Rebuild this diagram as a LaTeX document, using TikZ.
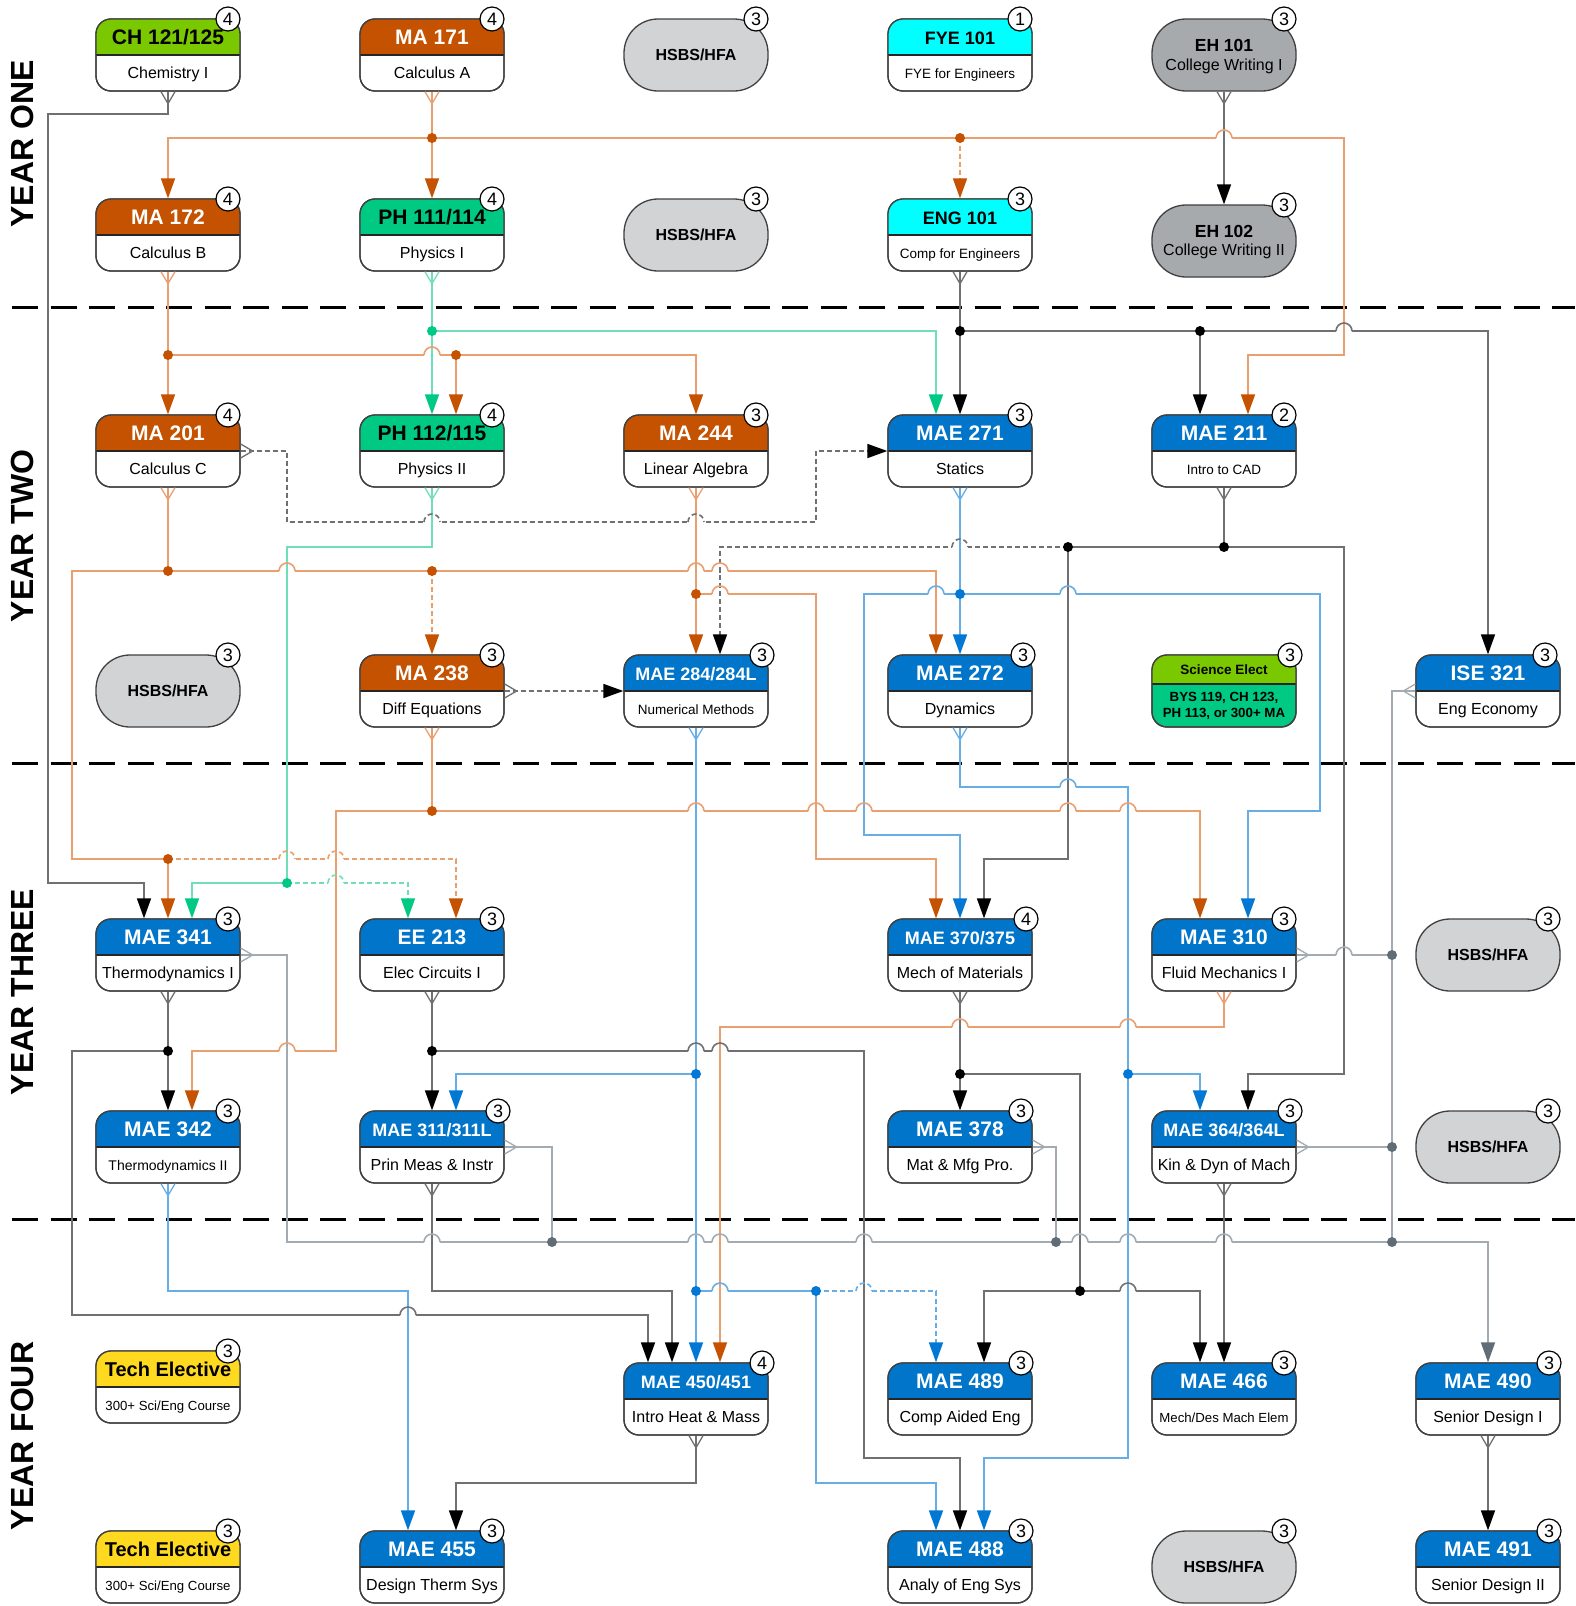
\documentclass[tikz,border=0pt]{standalone}
\usepackage{fontspec}
\setmainfont{Liberation Sans}
\usetikzlibrary{arrows.meta,calc}

\definecolor{maO}{RGB}{197,82,0}
\definecolor{orgL}{RGB}{232,160,112}
\definecolor{maeB}{RGB}{0,117,201}
\definecolor{bluL}{RGB}{104,174,228}
\definecolor{bluD}{RGB}{0,120,212}
\definecolor{phG}{RGB}{0,201,132}
\definecolor{grnL}{RGB}{112,222,182}
\definecolor{chG}{RGB}{122,200,0}
\definecolor{cyanC}{RGB}{0,255,255}
\definecolor{yelF}{RGB}{255,217,32}
\definecolor{hsbsF}{RGB}{209,211,212}
\definecolor{ehF}{RGB}{167,170,172}
\definecolor{gryL}{RGB}{112,112,114}
\definecolor{lgyL}{RGB}{162,170,178}
\definecolor{slateC}{RGB}{96,108,118}
\definecolor{bdr}{RGB}{64,64,64}

\newcommand\fs[1]{\fontsize{#1}{#1}\selectfont}

% course box: [badge offset]{name}{cx}{cy}{header colour}{title colour}{title}{subtitle}{credits}
\newcommand\crs[9][12]{%
  \node[cbox,fill=white] (#2) at (#3,#4) {};
  \fill[#5] ({#3-72},#4) -- ({#3-72},{#4-21}) arc[start angle=180,end angle=270,radius=15]
     -- ({#3+57},{#4-36}) arc[start angle=270,end angle=360,radius=15] -- ({#3+72},#4) -- cycle;
  \draw[divl] ({#3-72},#4) -- ({#3+72},#4);
  \node[cbox] at (#3,#4) {};
  \node[ttl,text=#6] at (#3,{#4-18}) {#7};
  \node[sub] at (#3,{#4+18}) {#8};
  \node[badge] at ({#3+72-#1},{#4-36}) {#9};
}
\newcommand\hsbsnode[3]{\node[hsbsS] (#1) at (#2,#3) {HSBS/HFA};
  \node[badge] at ({#2+60},{#3-36}) {3};}
\newcommand\dt[3]{\fill[#1] (#2,#3) circle[radius=5];}
\newcommand\hop[4]{%
  \fill[white] ({#1-8},{#2-1.8}) rectangle ({#1+8},{#2+1.8});
  \draw[#4] (#1,{#2-3}) -- (#1,{#2+3});
  \draw[#3] ({#1-8},#2) arc[start angle=180,end angle=360,radius=8];}
\newcommand\Vd[2]{\draw[#1,line width=1.3pt] ($(#2)+(-7,0)$) -- ($(#2)+(0,12)$) -- ($(#2)+(7,0)$);}
\newcommand\Vr[2]{\draw[#1,line width=1.3pt] ($(#2)+(0,-7)$) -- ($(#2)+(12,0)$) -- ($(#2)+(0,7)$);}
\newcommand\Vl[2]{\draw[#1,line width=1.3pt] ($(#2)+(0,-7)$) -- ($(#2)+(-12,0)$) -- ($(#2)+(0,7)$);}

\tikzset{
 cbox/.style={draw=bdr, line width=1.3pt, rounded corners=15pt, minimum width=144pt, minimum height=72pt, inner sep=0pt},
 divl/.style={draw=black!85, line width=2pt},
 ttl/.style={font=\bfseries\fs{21}, inner sep=0pt, text height=15pt, text depth=0pt},
 sub/.style={font=\fs{16}, inner sep=0pt, text height=11.5pt, text depth=0pt, text=black},
 badge/.style={circle, draw=black, line width=1.2pt, fill=white, minimum size=24pt, inner sep=0pt, font=\fs{18}},
 hsbsS/.style={draw=bdr, line width=1.3pt, fill=hsbsF, rounded corners=34pt, minimum width=144pt, minimum height=72pt, inner sep=0pt, font=\bfseries\fs{16}},
 ehS/.style={hsbsS, fill=ehF},
 ln/.style={line width=1.6pt},
 org/.style={ln, draw=orgL},
 grn/.style={ln, draw=grnL},
 blu/.style={ln, draw=bluL},
 gry/.style={ln, draw=gryL},
 lgy/.style={ln, draw=lgyL},
 dsh/.style={dash pattern=on 5pt off 3pt},
 tO/.style={-{Triangle[length=20pt,width=14pt,color=maO]}},
 tG/.style={-{Triangle[length=20pt,width=14pt,color=phG]}},
 tB/.style={-{Triangle[length=20pt,width=14pt,color=bluD]}},
 tK/.style={-{Triangle[length=20pt,width=14pt,color=black]}},
 tS/.style={-{Triangle[length=20pt,width=14pt,color=slateC]}},
 sepl/.style={line width=3pt, dash pattern=on 26pt off 12.5pt},
 yr/.style={rotate=90, font=\bfseries\fs{32}, inner sep=0pt},
}

\begin{document}
\begin{tikzpicture}[x=1pt,y=-1pt]
\useasboundingbox (0,0) rectangle (1575,1606);
\fill[white] (0,0) rectangle (1575,1606);

% separators and year labels
\draw[sepl] (12,307) -- (1575,307);
\draw[sepl] (12,763) -- (1575,763);
\draw[sepl] (12,1219) -- (1575,1219);
\node[yr] (y1) at (22.5,144) {YEAR ONE};
\node[yr] (y2) at (22.5,536) {YEAR TWO};
\node[yr] (y3) at (22.5,992) {YEAR THREE};
\node[yr] (y4) at (22.5,1436) {YEAR FOUR};

% ---------- Year one
\crs{ch121}{168}{55}{chG}{black}{CH 121/125}{Chemistry I}{4}
\crs{ma171}{432}{55}{maO}{white}{MA 171}{Calculus A}{4}
\hsbsnode{hs1}{696}{55}
\crs{fye101}{960}{55}{cyanC}{black}{\fs{18}FYE 101}{\fs{13.5}FYE for Engineers}{1}
\node[ehS] (eh101) at (1224,55) {};
\node[ttl,font=\bfseries\fs{17.5},text height=12.5pt] at (1224,45) {EH 101};
\node[sub] at (1224,65) {College Writing I};
\node[badge] at (1284,19) {3};

\crs{ma172}{168}{235}{maO}{white}{MA 172}{Calculus B}{4}
\crs{ph111}{432}{235}{phG}{black}{PH 111/114}{Physics I}{4}
\hsbsnode{hs2}{696}{235}
\crs{eng101}{960}{235}{cyanC}{black}{\fs{18}ENG 101}{\fs{13.5}Comp for Engineers}{3}
\node[ehS] (eh102) at (1224,241) {};
\node[ttl,font=\bfseries\fs{17.5},text height=12.5pt] at (1224,231) {EH 102};
\node[sub] at (1224,250) {College Writing II};
\node[badge] at (1284,205) {3};

% ---------- Year two
\crs{ma201}{168}{451}{maO}{white}{MA 201}{Calculus C}{4}
\crs{ph112}{432}{451}{phG}{black}{PH 112/115}{Physics II}{4}
\crs{ma244}{696}{451}{maO}{white}{MA 244}{Linear Algebra}{3}
\crs{mae271}{960}{451}{maeB}{white}{MAE 271}{Statics}{3}
\crs{mae211}{1224}{451}{maeB}{white}{MAE 211}{\fs{13.5}Intro to CAD}{2}

\hsbsnode{hs3}{168}{691}
\crs{ma238}{432}{691}{maO}{white}{MA 238}{Diff Equations}{3}
\crs[6]{mae284}{696}{691}{maeB}{white}{\fs{18}MAE 284/284L}{\fs{13.5}Numerical Methods}{3}
\crs[9]{mae272}{960}{691}{maeB}{white}{MAE 272}{Dynamics}{3}
\node[cbox,fill=phG] (sci) at (1224,691) {};
\fill[chG] (1152,684) -- (1152,670) arc[start angle=180,end angle=270,radius=15]
   -- (1281,655) arc[start angle=270,end angle=360,radius=15] -- (1296,684) -- cycle;
\draw[divl] (1152,684) -- (1296,684);
\node[cbox] at (1224,691) {};
\node[font=\bfseries\fs{13.5},inner sep=0pt] at (1224,670) {Science Elect};
\node[font=\bfseries\fs{13.3},inner sep=0pt] at (1224,698) {BYS 119, CH 123,};
\node[font=\bfseries\fs{13.3},inner sep=0pt] at (1224,714) {PH 113, or 300+ MA};
\node[badge] at (1290,655) {3};
\crs[15]{ise321}{1488}{691}{maeB}{white}{ISE 321}{Eng Economy}{3}

% ---------- Year three
\crs{mae341}{168}{955}{maeB}{white}{MAE 341}{Thermodynamics I}{3}
\crs{ee213}{432}{955}{maeB}{white}{EE 213}{Elec Circuits I}{3}
\crs[6]{mae370}{960}{955}{maeB}{white}{\fs{18}MAE 370/375}{Mech of Materials}{4}
\crs{mae310}{1224}{955}{maeB}{white}{MAE 310}{Fluid Mechanics I}{3}
\hsbsnode{hs4}{1488}{955}

\crs{mae342}{168}{1147}{maeB}{white}{MAE 342}{\fs{14}Thermodynamics II}{3}
\crs[6]{mae311}{432}{1147}{maeB}{white}{\fs{18}MAE 311/311L}{Prin Meas \& Instr}{3}
\crs[11]{mae378}{960}{1147}{maeB}{white}{MAE 378}{Mat \& Mfg Pro.}{3}
\crs[6]{mae364}{1224}{1147}{maeB}{white}{\fs{18}MAE 364/364L}{Kin \& Dyn of Mach}{3}
\hsbsnode{hs5}{1488}{1147}

% ---------- Year four
\crs{te1}{168}{1387}{yelF}{black}{\fs{20}Tech Elective}{\fs{13.2}300+ Sci/Eng Course}{3}
\crs[6]{mae450}{696}{1399}{maeB}{white}{\fs{18}MAE 450/451}{Intro Heat \& Mass}{4}
\crs[11]{mae489}{960}{1399}{maeB}{white}{MAE 489}{Comp Aided Eng}{3}
\crs{mae466}{1224}{1399}{maeB}{white}{MAE 466}{\fs{13.2}Mech/Des Mach Elem}{3}
\crs[11]{mae490}{1488}{1399}{maeB}{white}{MAE 490}{Senior Design I}{3}

\crs{te2}{168}{1567}{yelF}{black}{\fs{20}Tech Elective}{\fs{13.2}300+ Sci/Eng Course}{3}
\crs{mae455}{432}{1567}{maeB}{white}{MAE 455}{Design Therm Sys}{3}
\crs[11]{mae488}{960}{1567}{maeB}{white}{MAE 488}{Analy of Eng Sys}{3}
\hsbsnode{hs6}{1224}{1567}
\crs[11]{mae491}{1488}{1567}{maeB}{white}{MAE 491}{Senior Design II}{3}

% ---------- connectors
\draw[gry,tK] (ch121.south) -- (168,114) -- (48,114) -- (48,883) -- (144,883) -- ([xshift=-24pt]mae341.north);

\draw[org,tO] (ma171.south) -- (ph111.north);
\draw[org,tO] (432,138) -- (168,138) -- (ma172.north);
\draw[org,tO] (432,138) -- (1344,138) -- (1344,355) -- (1248,355) -- ([xshift=24pt]mae211.north);
\draw[org,dsh,tO] (960,138) -- (eng101.north);

\draw[gry,tK] (eh101.south) -- (eh102.north);

\draw[org,tO] (ma172.south) -- (ma201.north);
\draw[org,tO] (168,355) -- (456,355) -- ([xshift=24pt]ph112.north);
\draw[org,tO] (456,355) -- (696,355) -- (ma244.north);

\draw[grn,tG] (ph111.south) -- (ph112.north);
\draw[grn,tG] (432,331) -- (936,331) -- ([xshift=-24pt]mae271.north);

\draw[gry,tK] (eng101.south) -- (mae271.north);
\draw[gry,tK] (960,331) -- (1200,331) -- ([xshift=-24pt]mae211.north);
\draw[gry,tK] (1200,331) -- (1488,331) -- (ise321.north);

\draw[gry,dsh,tK] (ma201.east) -- (287,451) -- (287,522) -- (816,522) -- (816,451) -- (mae271.west);

\draw[org,tO] (ma201.south) -- (168,571) -- (72,571) -- (72,859) -- (168,859) -- (mae341.north);
\draw[org,dsh,tO] (168,859) -- (456,859) -- ([xshift=24pt]ee213.north);
\draw[org,dsh,tO] (432,571) -- (ma238.north);
\draw[org,tO] (168,571) -- (936,571) -- ([xshift=-24pt]mae272.north);

\draw[grn,tG] (ph112.south) -- (432,547) -- (287,547) -- (287,883) -- (192,883) -- ([xshift=24pt]mae341.north);
\draw[grn,dsh,tG] (287,883) -- (408,883) -- ([xshift=-24pt]ee213.north);

\draw[org,tO] (ma244.south) -- (mae284.north);
\draw[org,tO] (696,594) -- (816,594) -- (816,859) -- (936,859) -- ([xshift=-24pt]mae370.north);

\draw[gry,dsh,tK] (ma238.east) -- (mae284.west);
\draw[org,tO] (ma238.south) -- (432,811) -- (336,811) -- (336,1051) -- (192,1051) -- ([xshift=24pt]mae342.north);
\draw[org,tO] (432,811) -- (1200,811) -- ([xshift=-24pt]mae310.north);

\draw[gry,tK] (mae211.south) -- (1224,547) -- (1344,547) -- (1344,1074) -- (1248,1074) -- ([xshift=24pt]mae364.north);
\draw[gry,tK] (1224,547) -- (1068,547) -- (1068,859) -- (984,859) -- ([xshift=24pt]mae370.north);
\draw[gry,dsh,tK] (1068,547) -- (720,547) -- ([xshift=24pt]mae284.north);

\draw[blu,tB] (mae271.south) -- (mae272.north);
\draw[blu,tB] (960,594) -- (864,594) -- (864,835) -- (960,835) -- (mae370.north);
\draw[blu,tB] (960,594) -- (1320,594) -- (1320,811) -- (1248,811) -- ([xshift=24pt]mae310.north);

\draw[blu,tB] (mae284.south) -- (mae450.north);
\draw[blu,tB] (696,1074) -- (456,1074) -- ([xshift=24pt]mae311.north);
\draw[blu,tB] (696,1291) -- (816,1291) -- (816,1483) -- (936,1483) -- ([xshift=-24pt]mae488.north);
\draw[blu,dsh,tB] (816,1291) -- (936,1291) -- ([xshift=-24pt]mae489.north);

\draw[blu,tB] (mae272.south) -- (960,787) -- (1128,787) -- (1128,1074) -- (1200,1074) -- ([xshift=-24pt]mae364.north);
\draw[blu,tB] (1128,1074) -- (1128,1458) -- (984,1458) -- ([xshift=24pt]mae488.north);

\draw[gry,tK] (mae341.south) -- (mae342.north);
\draw[gry,tK] (168,1051) -- (72,1051) -- (72,1315) -- (648,1315) -- ([xshift=-48pt]mae450.north);
\draw[lgy,tS] (mae341.east) -- (287,955) -- (287,1242) -- (1488,1242) -- (mae490.north);

\draw[blu,tB] (mae342.south) -- (168,1291) -- (408,1291) -- ([xshift=-24pt]mae455.north);

\draw[gry,tK] (ee213.south) -- (mae311.north);
\draw[gry,tK] (432,1051) -- (864,1051) -- (864,1458) -- (960,1458) -- (mae488.north);

\draw[gry,tK] (mae311.south) -- (432,1291) -- (672,1291) -- ([xshift=-24pt]mae450.north);
\draw[lgy] (mae311.east) -- (552,1147) -- (552,1242);

\draw[lgy] (mae310.east) -- (1392,955);
\draw[org,tO] (mae310.south) -- (1224,1027) -- (720,1027) -- ([xshift=24pt]mae450.north);

\draw[lgy] (ise321.west) -- (1392,691) -- (1392,1242);
\draw[lgy] (mae364.east) -- (1392,1147);
\draw[gry,tK] (mae364.south) -- (mae466.north);

\draw[gry,tK] (mae370.south) -- (mae378.north);
\draw[gry,tK] (960,1074) -- (1080,1074) -- (1080,1291) -- (984,1291) -- ([xshift=24pt]mae489.north);
\draw[gry,tK] (1080,1291) -- (1200,1291) -- ([xshift=-24pt]mae466.north);

\draw[lgy] (mae378.east) -- (1056,1147) -- (1056,1242);

\draw[gry,tK] (mae450.south) -- (696,1483) -- (456,1483) -- ([xshift=24pt]mae455.north);
\draw[gry,tK] (mae490.south) -- (mae491.north);

% ---------- junction dots
\dt{maO}{432}{138} \dt{maO}{960}{138} \dt{maO}{168}{355} \dt{maO}{456}{355}
\dt{maO}{168}{571} \dt{maO}{432}{571} \dt{maO}{168}{859} \dt{maO}{696}{594} \dt{maO}{432}{811}
\dt{phG}{432}{331} \dt{phG}{287}{883}
\dt{black}{960}{331} \dt{black}{1200}{331} \dt{black}{1224}{547} \dt{black}{1068}{547}
\dt{black}{168}{1051} \dt{black}{432}{1051} \dt{black}{960}{1074} \dt{black}{1080}{1291}
\dt{bluD}{960}{594} \dt{bluD}{696}{1074} \dt{bluD}{696}{1291} \dt{bluD}{816}{1291} \dt{bluD}{1128}{1074}
\dt{slateC}{552}{1242} \dt{slateC}{1056}{1242} \dt{slateC}{1392}{955} \dt{slateC}{1392}{1147} \dt{slateC}{1392}{1242}

% ---------- line jumps
\hop{1224}{138}{org}{gry}
\hop{432}{355}{org}{grn}
\hop{1344}{331}{gry}{org}
\hop{432}{522}{gry,dsh}{grn}
\hop{696}{522}{gry,dsh}{org}
\hop{287}{571}{org}{grn}
\hop{696}{571}{org}{org}
\hop{720}{571}{org}{gry,dsh}
\hop{720}{594}{org}{gry,dsh}
\hop{960}{547}{gry,dsh}{blu}
\hop{936}{594}{blu}{org}
\hop{1068}{594}{blu}{gry}
\hop{1068}{787}{blu}{gry}
\hop{696}{811}{org}{blu}
\hop{816}{811}{org}{org}
\hop{864}{811}{org}{blu}
\hop{1068}{811}{org}{gry}
\hop{1128}{811}{org}{blu}
\hop{287}{859}{org,dsh}{grn}
\hop{336}{859}{org,dsh}{org}
\hop{336}{883}{grn,dsh}{org}
\hop{1344}{955}{lgy}{gry}
\hop{1128}{1027}{org}{blu}
\hop{960}{1027}{org}{gry}
\hop{287}{1051}{org}{lgy}
\hop{696}{1051}{gry}{blu}
\hop{720}{1051}{gry}{org}
\hop{432}{1242}{lgy}{gry}
\hop{696}{1242}{lgy}{blu}
\hop{720}{1242}{lgy}{org}
\hop{864}{1242}{lgy}{gry}
\hop{1080}{1242}{lgy}{gry}
\hop{1128}{1242}{lgy}{blu}
\hop{1224}{1242}{lgy}{gry}
\hop{720}{1291}{blu}{org}
\hop{864}{1291}{blu,dsh}{gry}
\hop{1128}{1291}{gry}{blu}
\hop{408}{1315}{gry}{blu}

% ---------- source markers
\Vd{draw=gryL}{ch121.south}
\Vd{draw=orgL}{ma171.south}
\Vd{draw=gryL}{eh101.south}
\Vd{draw=orgL}{ma172.south}
\Vd{draw=grnL}{ph111.south}
\Vd{draw=gryL}{eng101.south}
\Vr{draw=gryL}{ma201.east}
\Vd{draw=orgL}{ma201.south}
\Vd{draw=grnL}{ph112.south}
\Vd{draw=orgL}{ma244.south}
\Vd{draw=bluL}{mae271.south}
\Vd{draw=gryL}{mae211.south}
\Vr{draw=gryL}{ma238.east}
\Vd{draw=orgL}{ma238.south}
\Vd{draw=bluL}{mae284.south}
\Vd{draw=bluL}{mae272.south}
\Vl{draw=lgyL}{ise321.west}
\Vr{draw=lgyL}{mae341.east}
\Vd{draw=gryL}{mae341.south}
\Vd{draw=gryL}{ee213.south}
\Vd{draw=gryL}{mae370.south}
\Vr{draw=lgyL}{mae310.east}
\Vd{draw=orgL}{mae310.south}
\Vd{draw=bluL}{mae342.south}
\Vr{draw=lgyL}{mae311.east}
\Vd{draw=gryL}{mae311.south}
\Vr{draw=lgyL}{mae378.east}
\Vr{draw=lgyL}{mae364.east}
\Vd{draw=gryL}{mae364.south}
\Vd{draw=gryL}{mae450.south}
\Vd{draw=gryL}{mae490.south}
\end{tikzpicture}
\end{document}
